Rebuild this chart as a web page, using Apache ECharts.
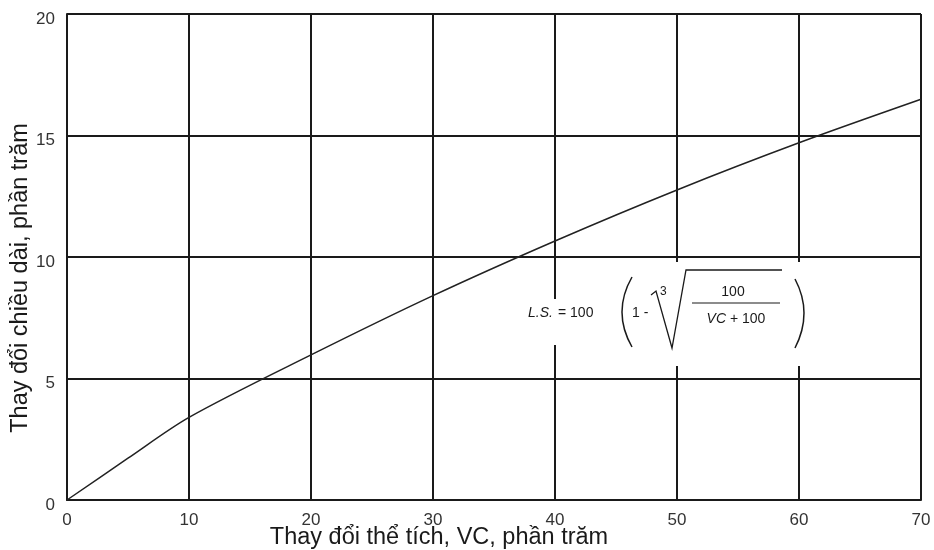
<!doctype html>
<html>
    <head>
        <meta charset="utf-8">
        <title>Thay đổi chiều dài</title>
        <style>
            html, body { margin: 0; padding: 0; background: #fff; }
            #main { width: 934px; height: 550px; }
        </style>
    </head>
    <body>
        <div id="main"></div>
        <script src="https://cdn.jsdelivr.net/npm/echarts@6/dist/echarts.min.js"></script>
        <script>
            // values
            var vcValues = [0, 5, 10, 20, 30, 40, 50, 60, 70];
            var lsValues = [0, 1.72, 3.4, 5.97, 8.41, 10.66, 12.76, 14.7, 16.49];
            var xTicks = [0, 10, 20, 30, 40, 50, 60, 70];
            var yTicks = [0, 5, 10, 15, 20];

            var font = '"Liberation Sans", Arial, sans-serif';
            var ink = '#1a1a1a';

            var chart = echarts.init(document.getElementById('main'));

            var lineData = vcValues.map(function (v, i) {
                return [v, lsValues[i]];
            });

            chart.setOption({
                backgroundColor: '#fff',
                animation: false,
                grid: {
                    left: 67,
                    right: 13,
                    top: 14,
                    bottom: 50,
                    outerBoundsMode: 'none'
                },
                xAxis: {
                    type: 'value',
                    min: xTicks[0],
                    max: xTicks[xTicks.length - 1],
                    interval: 10,
                    name: 'Thay đổi thể tích, VC, phần trăm',
                    nameLocation: 'middle',
                    nameGap: 26,
                    nameMoveOverlap: false,
                    nameTextStyle: {
                        fontFamily: font,
                        fontSize: 23.5,
                        color: ink,
                        padding: [0, 110, 0, 0]
                    },
                    axisLine: { show: true, lineStyle: { color: ink, width: 2 } },
                    axisTick: { show: false },
                    axisLabel: {
                        fontFamily: font,
                        fontSize: 17,
                        color: '#333',
                        margin: 12
                    },
                    splitLine: { show: true, lineStyle: { color: ink, width: 2 } }
                },
                yAxis: {
                    type: 'value',
                    min: yTicks[0],
                    max: yTicks[yTicks.length - 1],
                    interval: 5,
                    name: 'Thay đổi chiều dài, phần trăm',
                    nameLocation: 'middle',
                    nameGap: 34,
                    nameMoveOverlap: false,
                    nameRotate: 90,
                    nameTextStyle: {
                        fontFamily: font,
                        fontSize: 23.5,
                        color: ink,
                        padding: [0, 42, 0, 0]
                    },
                    axisLine: { show: true, lineStyle: { color: ink, width: 2 } },
                    axisTick: { show: false },
                    axisLabel: {
                        fontFamily: font,
                        fontSize: 17,
                        color: '#333',
                        margin: 12,
                        verticalAlign: 'top',
                        lineHeight: 10
                    },
                    splitLine: { show: true, lineStyle: { color: ink, width: 2 } }
                },
                series: [{
                    type: 'line',
                    data: lineData,
                    smooth: 0.3,
                    showSymbol: false,
                    lineStyle: { color: '#222', width: 1.5 },
                    z: 3
                }],
                graphic: [
                    // white patch behind the formula
                    { type: 'rect', z: 100, shape: { x: 524, y: 299, width: 90, height: 46 }, style: { fill: '#fff' } },
                    { type: 'rect', z: 100, shape: { x: 612, y: 262, width: 203, height: 104 }, style: { fill: '#fff' } },
                    { type: 'text', z: 101, x: 528, y: 313, style: { text: 'L.S.', font: 'italic 14px ' + font, fill: ink, verticalAlign: 'middle' } },
                    { type: 'text', z: 101, x: 558, y: 313, style: { text: '= 100', font: '14px ' + font, fill: ink, verticalAlign: 'middle' } },
                    { type: 'bezierCurve', z: 101, shape: { x1: 632, y1: 277, x2: 632, y2: 347, cpx1: 612, cpy1: 312 }, style: { stroke: ink, lineWidth: 1.5, fill: null } },
                    { type: 'bezierCurve', z: 101, shape: { x1: 795, y1: 279, x2: 795, y2: 348, cpx1: 813, cpy1: 313 }, style: { stroke: ink, lineWidth: 1.5, fill: null } },
                    { type: 'text', z: 101, x: 632, y: 313, style: { text: '1 -', font: '14px ' + font, fill: ink, verticalAlign: 'middle' } },
                    { type: 'text', z: 101, x: 660, y: 292, style: { text: '3', font: '12px ' + font, fill: ink, verticalAlign: 'middle' } },
                    { type: 'polyline', z: 101, shape: { points: [[651, 295], [656, 291], [672, 348], [686, 270], [782, 270]] }, style: { stroke: ink, lineWidth: 1.3, fill: null } },
                    { type: 'text', z: 101, x: 733, y: 292, style: { text: '100', font: '14px ' + font, fill: ink, align: 'center', verticalAlign: 'middle' } },
                    { type: 'line', z: 101, shape: { x1: 692, y1: 303, x2: 780, y2: 303 }, style: { stroke: ink, lineWidth: 1.2 } },
                    { type: 'text', z: 101, x: 736, y: 319, style: {
                        text: '{i|VC} + 100',
                        font: '14px ' + font,
                        fill: ink,
                        align: 'center',
                        verticalAlign: 'middle',
                        rich: { i: { fontStyle: 'italic', fontSize: 14, fontFamily: font, fill: ink } }
                    } }
                ]
            });

            window.onresize = chart.resize;
        </script>
    </body>
</html>
